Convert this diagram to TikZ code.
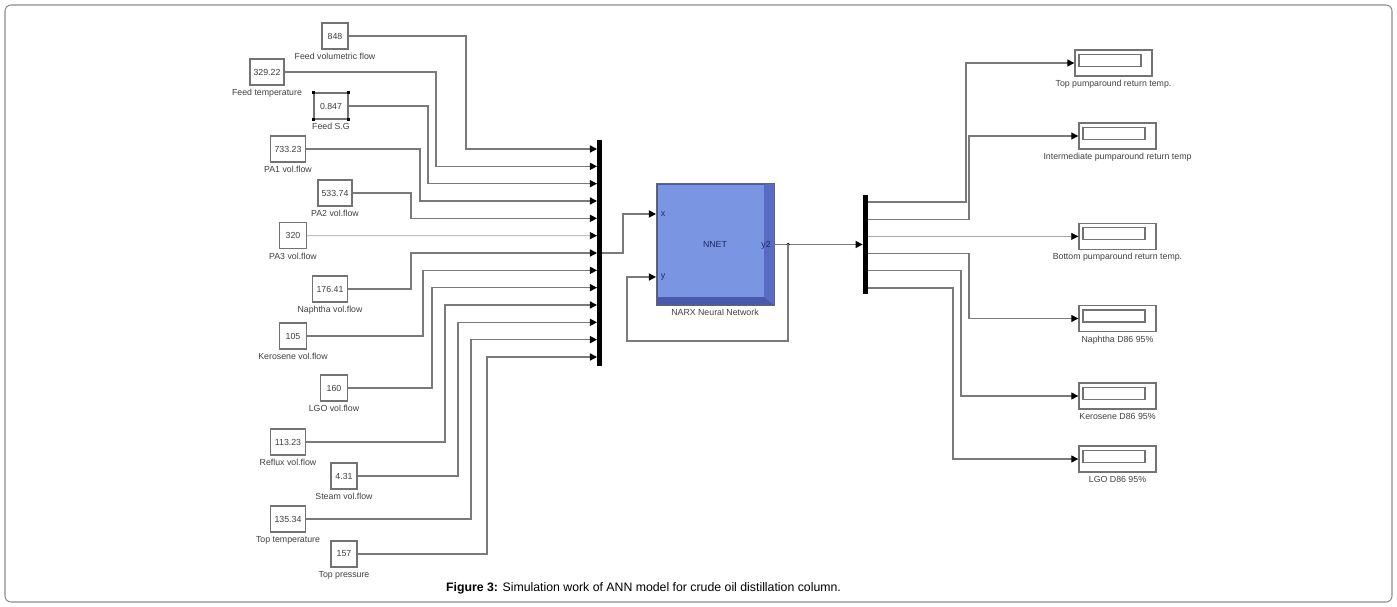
\documentclass[tikz,border=0pt]{standalone}
\usepackage{fontspec}
\setmainfont{Liberation Sans}
\usepackage{xcolor}
\usepackage{tikz}
\usetikzlibrary{calc, positioning, arrows.meta}
\colorlet{wiregray}{black!52}
\definecolor{nnetface}{RGB}{122,150,226}
\definecolor{nnetside}{RGB}{88,108,196}
\definecolor{nnetbottom}{RGB}{72,90,172}
\definecolor{nnettext}{RGB}{30,40,100}

\tikzset{
	constbox/.style={draw=black!55, line width=0.8pt, fill=white, minimum height=0.52cm, inner sep=0pt, text=black!75, font=\fontsize{5}{6}\selectfont},
	blocklabel/.style={font=\fontsize{5}{6}\selectfont, text=black!75, inner sep=0pt},
	handle/.style={fill=black, minimum size=0.06cm, inner sep=0pt},
	wire/.style={draw=wiregray, line width=0.75pt, -{Triangle[length=4pt, width=4pt, color=black]}},
	thinwire/.style={draw=black!35, line width=0.4pt, -{Triangle[length=4pt, width=4pt, color=black]}},
	busbar/.style={fill=black, minimum width=0.1cm, inner sep=0pt},
	nnetblock/.style={draw=black!60, fill=nnetbottom, minimum width=2.36cm, minimum height=2.44cm, text=nnettext, font=\fontsize{5}{6}\selectfont,
		path picture={
			\fill[nnetside] (path picture bounding box.north east) -- (path picture bounding box.south east) -- ([shift={(-0.2cm,0.16cm)}]path picture bounding box.south east) -- ([shift={(-0.2cm,-0.04cm)}]path picture bounding box.north east) -- cycle;
			\fill[nnetface] ([shift={(0.04cm,-0.04cm)}]path picture bounding box.north west) rectangle ([shift={(-0.2cm,0.16cm)}]path picture bounding box.south east);
		}},
	portlabel/.style={font=\fontsize{5}{6}\selectfont, text=nnettext, inner sep=0pt},
	dspbox/.style={draw=black!55, line width=0.8pt, fill=white, minimum width=1.54cm, minimum height=0.52cm, inner sep=0pt,
		path picture={
			\draw[black!55, line width=0.6pt] ([shift={(0.08cm,-0.09cm)}]path picture bounding box.north west) rectangle ([shift={(-0.22cm,0.19cm)}]path picture bounding box.south east);
		}}
}

\begin{document}
\begin{tikzpicture}[x=0.02cm, y=-0.02cm]
		\useasboundingbox (0,0) rectangle (1397,607);
		\draw[black!45, line width=0.6pt, rounded corners=0.12cm] (5,5) rectangle (1392,602);

		\foreach \i/\v/\x/\y/\w/\t in {
			0/848/335/36/0.52/Feed volumetric flow,
			1/329.22/267/72/0.68/Feed temperature,
			2/0.847/331/106/0.68/Feed S.G,
			3/733.23/288/149/0.70/PA1 vol.flow,
			4/533.74/335/193/0.68/PA2 vol.flow,
			5/320/293/235.67/0.54/PA3 vol.flow,
			6/176.41/330/289/0.70/Naphtha vol.flow,
			7/105/293/336/0.54/Kerosene vol.flow,
			8/160/334/388/0.54/LGO vol.flow,
			9/113.23/288/442/0.70/Reflux vol.flow,
			10/4.31/344/476/0.52/Steam vol.flow,
			11/135.34/288/519/0.70/Top temperature,
			12/157/344/554/0.52/Top pressure}{
			\node[constbox, minimum width=\w cm] (c\i) at (\x,\y) {\v};
			\node[blocklabel, below=1.8pt of c\i] (l\i) {\t};
		}
		\foreach \a/\k in {north west/1, north east/2, south west/3, south east/4}
			\node[handle] (h\k) at (c2.\a) {};

		\node[busbar, minimum height=4.52cm] (mux) at (599.5,253) {};
		\foreach \i in {0,...,12}
			\coordinate (m\i) at (597,{149+17.333*\i});

		\foreach \i/\bx in {0/466,1/436,2/428,3/420,4/411,6/411,7/423,8/432,9/445,10/458,11/471,12/487}
			\draw[wire] (c\i.east) -| (\bx,0 |- m\i) -- (m\i);
		\draw[thinwire] (c5.east) -- (m5);

		\node[nnetblock] (nnet) at (715,244) {NNET};
		\node[blocklabel, below=2pt of nnet] (nnetlab) {NARX Neural Network};
		\coordinate (nx) at (656,214);
		\coordinate (ny) at (656,277);
		\coordinate (ny2) at (774,244.5);
		\node[portlabel] (px) at (663,214) {x};
		\node[portlabel] (py) at (663,277) {y};
		\node[portlabel] (py2) at (766,245) {y2};

		\draw[wire] (mux.east) -- (623,253) |- (nx);

		\node[busbar, minimum height=1.98cm] (demux) at (865.5,244.5) {};
		\coordinate (br) at (788,244.5);
		\draw[wire] (ny2) -- (demux.west);
		\fill[black] (br) circle (0.035cm);
		\draw[wire] (br) |- (627,341) |- (ny);

		\foreach \i in {0,...,5}
			\coordinate (d\i) at (868,{202+17.2*\i});

		\foreach \i/\x/\y/\t in {
			0/1113.5/63/Top pumparound return temp.,
			1/1117.5/136/Intermediate pumparound return temp,
			2/1117.5/236.4/Bottom pumparound return temp.,
			3/1117.5/318.5/Naphtha D86 95\%,
			4/1117.5/396/Kerosene D86 95\%,
			5/1117.5/459/LGO D86 95\%}{
			\node[dspbox] (dsp\i) at (\x,\y) {};
			\node[blocklabel, below=1.8pt of dsp\i] (dl\i) {\t};
		}

		\foreach \i/\bx in {0/966,1/969,3/969,4/961,5/953}
			\draw[wire] (d\i) -| (\bx,0 |- dsp\i.west) -- (dsp\i.west);
		\draw[thinwire] (d2) -- (dsp2.west);

		\node[font=\fontsize{7}{9}\selectfont] (caption) at (643.5,588) {\textbf{Figure 3:} Simulation work of ANN model for crude oil distillation column.};
	\end{tikzpicture}
\end{document}
